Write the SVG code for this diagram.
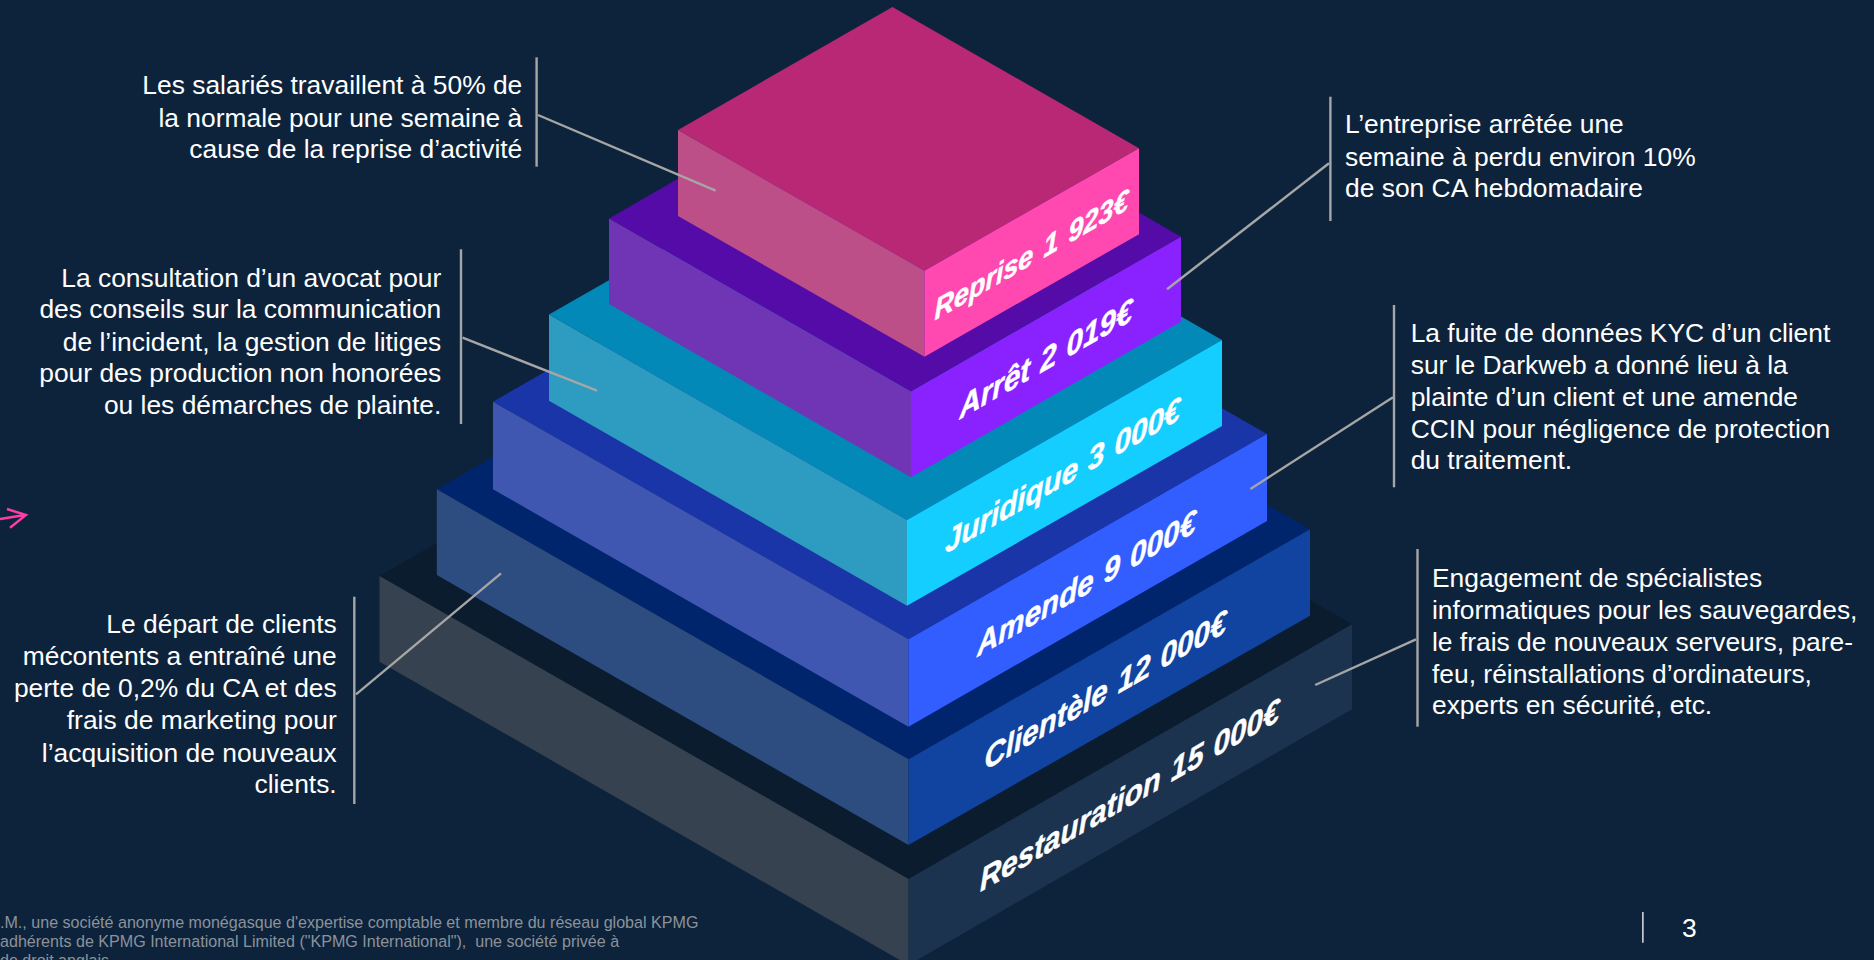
<svg xmlns="http://www.w3.org/2000/svg" width="1874" height="960" viewBox="0 0 1874 960">
<style>
.t{font-family:"Liberation Sans",Arial,sans-serif;font-size:26.4px;fill:#fff}
.r{text-anchor:end}
.f{font-family:"Liberation Sans",Arial,sans-serif;font-size:16.08px;fill:#8b929b}
.l{font-family:"Liberation Sans",Arial,sans-serif;font-size:34px;font-weight:bold;font-style:italic;fill:#fff;stroke:#fff;stroke-width:.5;word-spacing:2px}
.bar,.lead{stroke:#a6a6a6;stroke-width:2.4;fill:none}
</style>
<rect width="1874" height="960" fill="#0d233b"/>
<g id="restauration">
<polygon points="379.5,576 823,321 1352,624.3 908.5,879" fill="#0a1c2e"/>
<polygon points="379.5,576 908.5,879 908.5,965 379.5,661.7" fill="#36424f"/>
<polygon points="908.5,879 1352,624.3 1352,709.3 908.5,965" fill="#1c3350"/>
<text class="l" transform="matrix(.87 -.5 0 .95 980 892)">Restauration 15 000€</text>
</g>
<g id="clientele">
<polygon points="436.8,489.3 838.3,259.3 1310,529.3 908.5,759.3" fill="#00256d"/>
<polygon points="436.8,489.3 908.5,759.3 908.5,845 436.8,575" fill="#2d4c80"/>
<polygon points="908.5,759.3 1310,529.3 1310,615.7 908.5,845" fill="#1044a0"/>
<text class="l" transform="matrix(.87 -.5 0 .95 984.5 770.5)">Clientèle 12 000€</text>
</g>
<g id="amende">
<polygon points="493,401.7 851.5,196.4 1267,434 908.5,639.3" fill="#1a35a8"/>
<polygon points="493,401.7 908.5,639.3 908.5,726.7 493,489.3" fill="#4057b2"/>
<polygon points="908.5,639.3 1267,434 1267,521 908.5,726.7" fill="#325dff"/>
<text class="l" transform="matrix(.87 -.5 0 .95 977 657)">Amende 9 000€</text>
</g>
<g id="juridique">
<polygon points="549,314.5 864,134.5 1222,340 907,520" fill="#0389b8"/>
<polygon points="549,314.5 907,520 907,605.7 549,400.7" fill="#2e9bc0"/>
<polygon points="907,520 1222,340 1222,426 907,605.7" fill="#13ceff"/>
<text class="l" transform="matrix(.87 -.5 0 .95 945 554)">Juridique 3 000€</text>
</g>
<g id="arret">
<polygon points="609,218.5 879,63 1181,236.7 911,391.7" fill="#540ba8"/>
<polygon points="609,218.5 911,391.7 911,477.3 609,304" fill="#7035b5"/>
<polygon points="911,391.7 1181,236.7 1181,321.7 911,477.3" fill="#8a22ff"/>
<text class="l" transform="matrix(.87 -.5 0 .95 959.5 419.5)">Arrêt 2 019€</text>
</g>
<g id="reprise">
<polygon points="678,130 892.4,7 1139,148.3 924.5,270.7" fill="#b82874"/>
<polygon points="678,130 924.5,270.7 924.5,356.7 678,216" fill="#bc4e88"/>
<polygon points="924.5,270.7 1139,148.3 1139,234.3 924.5,356.7" fill="#ff48b0"/>
<text class="l" style="font-size:31px;word-spacing:3px" transform="matrix(.87 -.5 0 .95 934.5 320.5)">Reprise 1 923€</text>
</g>
<g id="connectors">
<line class="lead" x1="538" y1="115" x2="715.6" y2="190.7"/>
<line class="lead" x1="462.6" y1="337.7" x2="597" y2="390.7"/>
<line class="lead" x1="356" y1="694.3" x2="501" y2="573.3"/>
<line class="lead" x1="1329" y1="163.3" x2="1167" y2="289.3"/>
<line class="lead" x1="1393" y1="397.3" x2="1250.4" y2="489"/>
<line class="lead" x1="1416" y1="639.3" x2="1315.2" y2="685"/>
</g>
<g id="note-reprise">
<line class="bar" x1="536.6" y1="57.3" x2="536.6" y2="166.7"/>
<text class="t r" x="522.3" y="94.3">Les salariés travaillent à 50% de</text>
<text class="t r" x="522.3" y="126.7">la normale pour une semaine à</text>
<text class="t r" x="522.3" y="158.3">cause de la reprise d’activité</text>
</g>
<g id="note-juridique">
<line class="bar" x1="461" y1="249.3" x2="461" y2="424"/>
<text class="t r" x="441.3" y="286.7">La consultation d’un avocat pour</text>
<text class="t r" x="441.3" y="318.3">des conseils sur la communication</text>
<text class="t r" x="441.3" y="350.7">de l’incident, la gestion de litiges</text>
<text class="t r" x="441.3" y="382.3">pour des production non honorées</text>
<text class="t r" x="441.3" y="414.3">ou les démarches de plainte.</text>
</g>
<g id="note-clientele">
<line class="bar" x1="354.3" y1="596.7" x2="354.3" y2="804"/>
<text class="t r" x="336.7" y="633.3">Le départ de clients</text>
<text class="t r" x="336.7" y="665.3">mécontents a entraîné une</text>
<text class="t r" x="336.7" y="697.3">perte de 0,2% du CA et des</text>
<text class="t r" x="336.7" y="729.3">frais de marketing pour</text>
<text class="t r" x="336.7" y="761.7">l’acquisition de nouveaux</text>
<text class="t r" x="336.7" y="793.3">clients.</text>
</g>
<g id="note-arret">
<line class="bar" x1="1330.4" y1="96.7" x2="1330.4" y2="221"/>
<text class="t" x="1345" y="133.3">L’entreprise arrêtée une</text>
<text class="t" x="1345" y="165.7">semaine à perdu environ 10%</text>
<text class="t" x="1345" y="197.3">de son CA hebdomadaire</text>
</g>
<g id="note-amende">
<line class="bar" x1="1394" y1="305" x2="1394" y2="487.3"/>
<text class="t" x="1410.7" y="341.7">La fuite de données KYC d’un client</text>
<text class="t" x="1410.7" y="373.7">sur le Darkweb a donné lieu à la</text>
<text class="t" x="1410.7" y="405.7">plainte d’un client et une amende</text>
<text class="t" x="1410.7" y="437.7">CCIN pour négligence de protection</text>
<text class="t" x="1410.7" y="469.3">du traitement.</text>
</g>
<g id="note-restauration">
<line class="bar" x1="1417.5" y1="549" x2="1417.5" y2="726.7"/>
<text class="t" x="1432" y="586.7">Engagement de spécialistes</text>
<text class="t" x="1432" y="618.7">informatiques pour les sauvegardes,</text>
<text class="t" x="1432" y="650.7">le frais de nouveaux serveurs, pare-</text>
<text class="t" x="1432" y="682.7">feu, réinstallations d’ordinateurs,</text>
<text class="t" x="1432" y="714.3">experts en sécurité, etc.</text>
</g>
<g id="arrow">
<path d="M0 519 L25 515 M7 509 L26 515 L10 527.7" fill="none" stroke="#ff3ea5" stroke-width="2.4"/>
</g>
<g id="footer">
<text class="f" x="0" y="927.7">.M., une société anonyme monégasque d'expertise comptable et membre du réseau global KPMG</text>
<text class="f" x="0" y="946.7" xml:space="preserve">adhérents de KPMG International Limited ("KPMG International"),  une société privée à</text>
<text class="f" x="0" y="965.5">de droit anglais.</text>
<line x1="1642.9" y1="912" x2="1642.9" y2="942.7" stroke="#fff" stroke-width="1.3"/>
<text class="t" x="1682" y="936.7">3</text>
</g>
</svg>
